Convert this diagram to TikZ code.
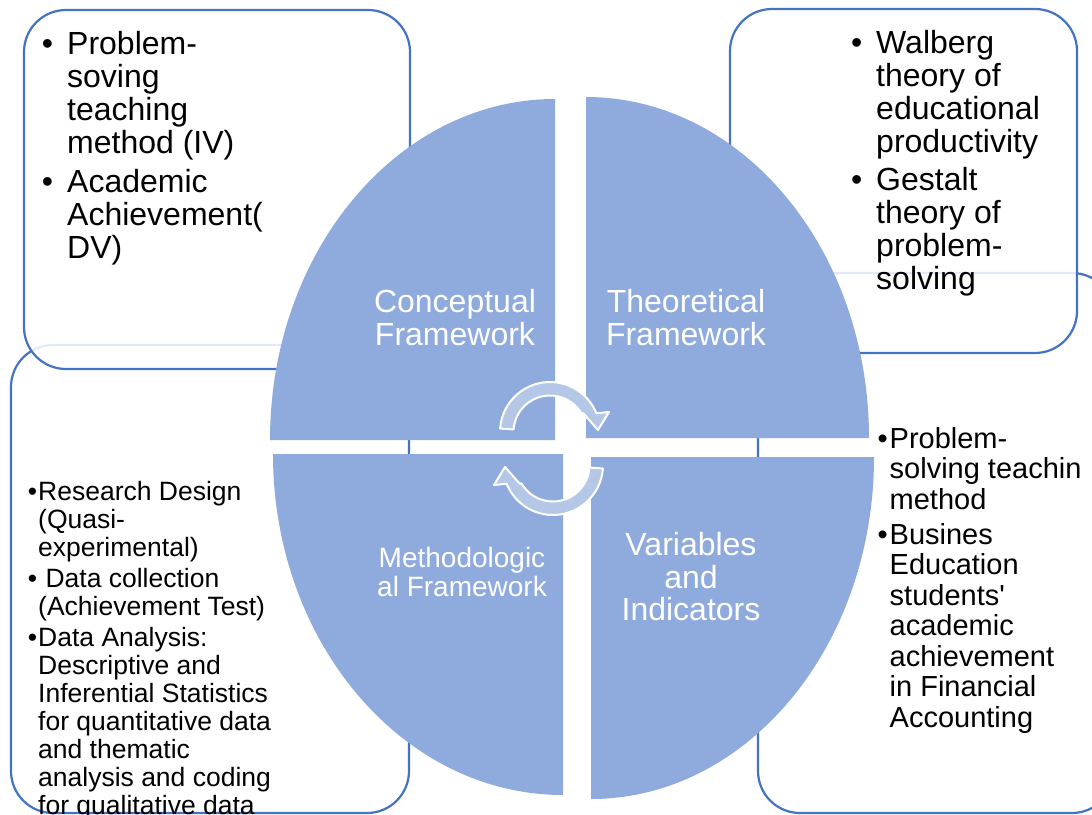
\documentclass[tikz,border=0pt]{standalone}
\usepackage{fontspec}
\setmainfont{Liberation Sans}
\usetikzlibrary{calc}

\definecolor{piefill}{RGB}{143,170,220}
\definecolor{boxline}{RGB}{68,114,196}
\definecolor{arrowfill}{RGB}{180,199,231}

% hanging bullet placed left of the line start
\newcommand{\bul}[1]{\leavevmode\llap{•\hspace{#1}}}
% one curved arrow of the cycle, drawn around the current origin
\newcommand{\cyclepath}{%
  \path[cyclearrow] (184:50) arc[start angle=184, end angle=338, radius=50]
    -- (59,-20) -- (48,-2) -- (33,-19)
    -- (330:36.5) arc[start angle=330, end angle=184, radius=36.5] -- cycle;}

\begin{document}
\begin{tikzpicture}[x=1pt,y=1pt,yscale=-1,
  infobox/.style={draw=boxline, line width=2.2pt, rounded corners=42pt},
  backbox/.style={infobox, fill=white},
  frontbox/.style={infobox, fill=white, fill opacity=0.85, draw opacity=1},
  quarter/.style={fill=piefill},
  boxtext/.style={anchor=north west, inner sep=0pt, align=left, text=black},
  pietext/.style={inner sep=0pt, align=center, text=white},
  cyclearrow/.style={fill=arrowfill, draw=white, line width=2pt, line join=round}
]
\fill[white] (0,0) rectangle (1092,814);
\useasboundingbox (0,0) rectangle (1092,814);
\clip (0,0) rectangle (1092,814);

% text boxes behind the segmented ellipse
\path[backbox] (11,345) rectangle (409,813);
\path[backbox] (758,273) rectangle (1114,813);
\path[frontbox] (24,10) rectangle (410,369);
\path[frontbox] (730,9) rectangle (1077,353);

% four quarters of the ellipse
\fill[quarter] (555,440) -- (270,440) arc[start angle=180, end angle=270, x radius=285, y radius=341] -- cycle;
\fill[quarter] (586,438) -- (586,97) arc[start angle=270, end angle=360, x radius=283, y radius=341] -- cycle;
\fill[quarter] (591,457) -- (874,457) arc[start angle=0, end angle=90, x radius=283, y radius=342] -- cycle;
\fill[quarter] (563,454) -- (563,795) arc[start angle=90, end angle=180, x radius=290, y radius=341] -- cycle;

% circular arrows in the middle
\begin{scope}[shift={(550,432)}]
  \cyclepath
\end{scope}
\begin{scope}[shift={(553,465)}, rotate=180]
  \cyclepath
\end{scope}

% labels on the quarters
\node[pietext, font=\fontsize{32}{33}\selectfont] (conc) at (455,318) {Conceptual\\Framework};
\node[pietext, font=\fontsize{32}{33}\selectfont] (theo) at (686,318) {Theoretical\\Framework};
\node[pietext, font=\fontsize{28}{29}\selectfont] (meth) at (462,572) {Methodologic\\al Framework};
\node[pietext, font=\fontsize{32}{32.5}\selectfont] (vari) at (691,577) {Variables\\and\\Indicators};

% box contents
\node[boxtext, font=\fontsize{32}{33}\selectfont] (tltext) at (67,31)
  {\bul{14pt}Problem-\\soving\\teaching\\method (IV)\\[6pt]\bul{14pt}Academic\\Achievement(\\DV)};
\node[boxtext, font=\fontsize{32}{33}\selectfont] (trtext) at (876,30)
  {\bul{14pt}Walberg\\theory of\\educational\\productivity\\[5pt]\bul{14pt}Gestalt\\theory of\\problem-\\solving};
\node[boxtext, font=\fontsize{26.5}{28}\selectfont] (bltext) at (38,481)
  {\bul{1pt}Research Design\\(Quasi-\\experimental)\\[3pt]\bul{1pt}\ Data collection\\(Achievement Test)\\[3pt]\bul{1pt}Data Analysis:\\Descriptive and\\Inferential Statistics\\for quantitative data\\and thematic\\analysis and coding\\for qualitative data};
\node[boxtext, font=\fontsize{29}{30.5}\selectfont] (brtext) at (889.5,427)
  {\bul{2pt}Problem-\\solving teachin\\method\\[4.5pt]\bul{2pt}Busines\\Education\\students\textquotesingle\\academic\\achievement\\in Financial\\Accounting};
\end{tikzpicture}
\end{document}
